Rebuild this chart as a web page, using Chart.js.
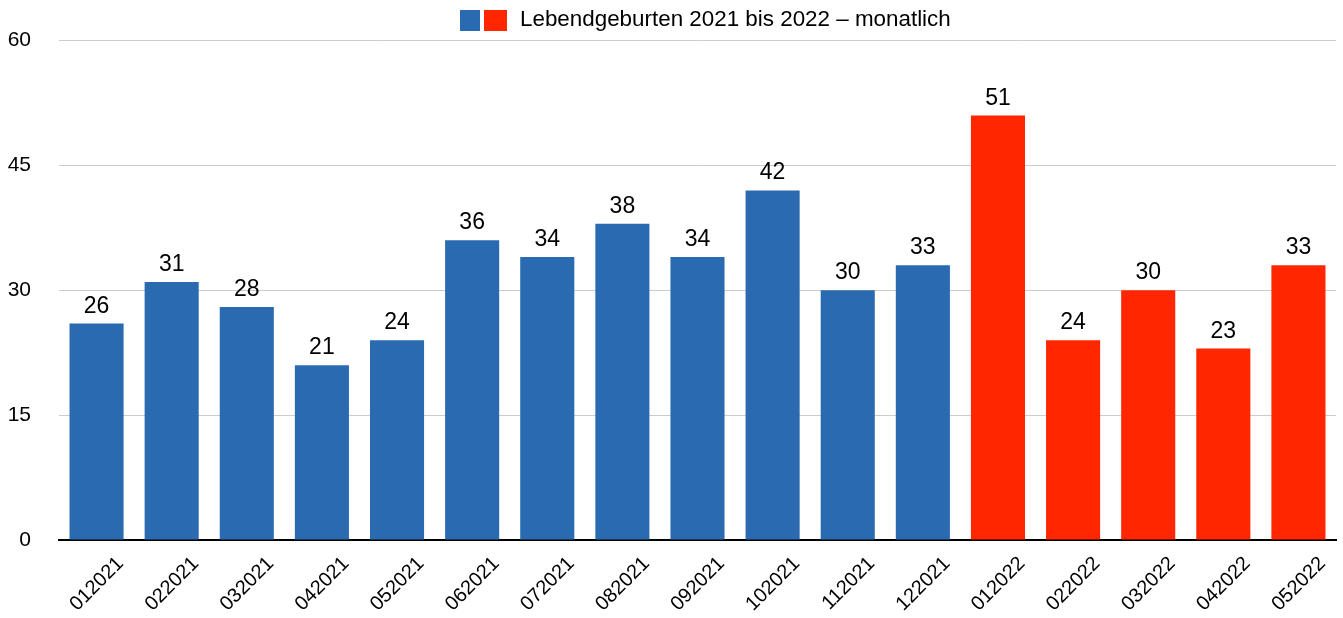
<!DOCTYPE html>
<html>
<head>
<meta charset="utf-8">
<script src="https://cdn.jsdelivr.net/npm/chart.js@4"></script>
<style>
  html, body { margin: 0; padding: 0; background: #fff; }
  #wrap { width: 1343px; height: 618px; }
</style>
</head>
<body>
<div id="wrap"><canvas id="chart"></canvas></div>
<script>
// Daten
const months = ["012021", "022021", "032021", "042021", "052021", "062021", "072021", "082021", "092021",
  "102021", "112021", "122021", "012022", "022022", "032022", "042022", "052022"];
const births = [26, 31, 28, 21, 24, 36, 34, 38, 34, 42, 30, 33, 51, 24, 30, 23, 33];
const legendLabel = "Lebendgeburten 2021 bis 2022 – monatlich";

const BLUE = "#2a6ab1";
const RED = "#ff2600";
const FONT = "Liberation Sans, Arial, sans-serif";

const barColors = months.map(m => m.endsWith("2022") ? RED : BLUE);

// Werte über den Balken
const valueLabels = {
  id: "valueLabels",
  afterDatasetsDraw(chart) {
    const ctx = chart.ctx;
    const meta = chart.getDatasetMeta(0);
    ctx.save();
    ctx.font = "23px " + FONT;
    ctx.fillStyle = "#000";
    ctx.textAlign = "center";
    ctx.textBaseline = "alphabetic";
    meta.data.forEach((bar, i) => {
      ctx.fillText(String(births[i]), bar.x, bar.y - 11);
    });
    ctx.restore();
  }
};

// Legende mit zwei Farbfeldern
const twoColorLegend = {
  id: "twoColorLegend",
  afterDraw(chart) {
    const ctx = chart.ctx;
    ctx.save();
    const x = 460;
    ctx.fillStyle = BLUE;
    ctx.fillRect(x, 10, 20, 21);
    ctx.fillStyle = RED;
    ctx.fillRect(x + 24, 10, 23, 21);
    ctx.font = "22.4px " + FONT;
    ctx.fillStyle = "#000";
    ctx.textBaseline = "middle";
    ctx.textAlign = "left";
    ctx.fillText(legendLabel, x + 60, 20);
    ctx.restore();
  }
};

new Chart(document.getElementById("chart"), {
  type: "bar",
  data: {
    labels: months,
    datasets: [{
      label: legendLabel,
      data: births,
      backgroundColor: barColors,
      barPercentage: 0.72,
      categoryPercentage: 1
    }]
  },
  options: {
    responsive: true,
    maintainAspectRatio: false,
    animation: false,
    layout: { padding: { top: 40, right: 7, left: 0, bottom: 0 } },
    plugins: {
      legend: { display: false },
      tooltip: { enabled: false }
    },
    scales: {
      x: {
        grid: { display: false },
        border: { display: true, color: "#000", width: 2 },
        ticks: {
          color: "#000",
          font: { family: FONT, size: 20 },
          minRotation: 45,
          maxRotation: 45,
          autoSkip: false,
          labelOffset: 24,
          padding: 4
        },
        afterFit(scale) { scale.height = 78; }
      },
      y: {
        min: 0,
        max: 60,
        grid: { color: "#cccccc", lineWidth: 1, drawTicks: false },
        border: { display: false },
        ticks: {
          stepSize: 15,
          color: "#000",
          font: { family: FONT, size: 21 },
          padding: 28
        },
        afterFit(scale) { scale.width = 59; }
      }
    }
  },
  plugins: [valueLabels, twoColorLegend]
});
</script>
</body>
</html>
